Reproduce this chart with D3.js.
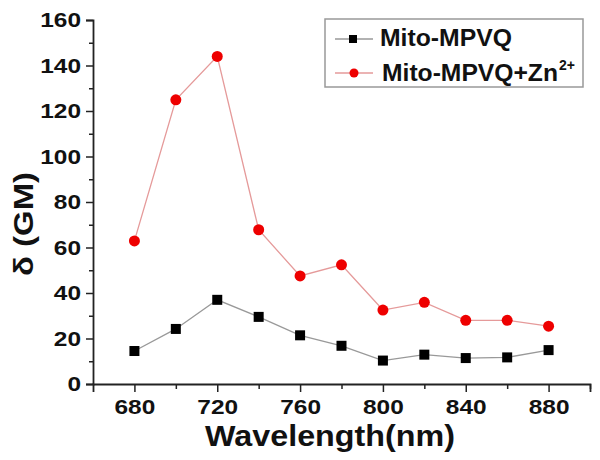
<!DOCTYPE html>
<html>
<head>
<meta charset="utf-8">
<script src="https://cdn.jsdelivr.net/npm/d3@7"></script>
<style>
  body { margin: 0; background: #fff; }
  text { font-family: "Liberation Sans", Arial, sans-serif; font-weight: bold; }
</style>
</head>
<body>
<div id="canvas"></div>
<script>
// data
const wavelengths = [680, 700, 720, 740, 760, 780, 800, 820, 840, 860, 880];
const mitoValues = [14.5, 24.2, 37.0, 29.5, 21.4, 16.8, 10.3, 12.9, 11.4, 11.7, 14.9];
const mitoZnValues = [62.9, 124.9, 144.0, 67.8, 47.5, 52.4, 32.5, 35.9, 28.0, 28.0, 25.4];
const xTicks = [680, 720, 760, 800, 840, 880];
const yTicks = [0, 20, 40, 60, 80, 100, 120, 140, 160];

const width = 600, height = 460;
const margin = {top: 20, right: 10, bottom: 76, left: 93};

const svg = d3.select("#canvas")
    .append("svg")
    .attr("width", width)
    .attr("height", height);

const x = d3.scaleLinear()
    .domain([660, 900])
    .range([margin.left, width - margin.right]);

const y = d3.scaleLinear()
    .domain([0, 160])
    .range([height - margin.bottom, margin.top]);

// x axis
const xAxis = svg.append("g")
    .attr("transform", "translate(0," + y(0) + ")")
    .call(d3.axisBottom(x).tickValues(xTicks).tickSize(8).tickPadding(7).tickFormat(d3.format("d")));
svg.append("g")
    .attr("transform", "translate(0," + y(0) + ")")
    .call(d3.axisBottom(x).tickValues([700, 740, 780, 820, 860, 900]).tickSize(5).tickFormat(""))
    .select(".domain").remove();

// y axis
const yAxis = svg.append("g")
    .attr("transform", "translate(" + x(660) + ",0)")
    .call(d3.axisLeft(y).tickValues(yTicks).tickSize(7).tickPadding(5));
svg.append("g")
    .attr("transform", "translate(" + x(660) + ",0)")
    .call(d3.axisLeft(y).tickValues(d3.range(10, 160, 20)).tickSize(4).tickFormat(""))
    .select(".domain").remove();

svg.selectAll(".domain").attr("stroke", "#222").attr("stroke-width", 1.8);
svg.selectAll(".tick line").attr("stroke", "#222").attr("stroke-width", 1.5);
// the original glyphs are a bit wider than Arial bold
svg.selectAll(".tick text")
    .attr("font-size", 21)
    .attr("fill", "#111")
    .attr("textLength", d => String(d).length * 13.6)
    .attr("lengthAdjust", "spacingAndGlyphs");

// axis titles
svg.append("text")
    .attr("x", 205)
    .attr("y", 446)
    .attr("font-size", 29)
    .attr("fill", "#111")
    .attr("textLength", 250)
    .attr("lengthAdjust", "spacingAndGlyphs")
    .text("Wavelength(nm)");

svg.append("text")
    .attr("transform", "translate(33,276) rotate(-90)")
    .attr("font-size", 28)
    .attr("fill", "#111")
    .attr("textLength", 104)
    .attr("lengthAdjust", "spacingAndGlyphs")
    .text("δ (GM)");

// lines
const line = d3.line()
    .x((d, i) => x(wavelengths[i]))
    .y(d => y(d));

svg.append("path")
    .datum(mitoValues)
    .attr("fill", "none")
    .attr("stroke", "#999")
    .attr("stroke-width", 1.3)
    .attr("d", line);

svg.append("path")
    .datum(mitoZnValues)
    .attr("fill", "none")
    .attr("stroke", "#e59a9a")
    .attr("stroke-width", 1.3)
    .attr("d", line);

svg.selectAll(".sq")
    .data(mitoValues)
    .join("rect")
    .attr("x", (d, i) => x(wavelengths[i]) - 5)
    .attr("y", d => y(d) - 5)
    .attr("width", 10)
    .attr("height", 10)
    .attr("fill", "#000");

svg.selectAll(".dot")
    .data(mitoZnValues)
    .join("circle")
    .attr("cx", (d, i) => x(wavelengths[i]))
    .attr("cy", d => y(d))
    .attr("r", 5.5)
    .attr("fill", "#ee0000");

// legend
const legend = svg.append("g");
legend.append("rect")
    .attr("x", 325)
    .attr("y", 19)
    .attr("width", 258)
    .attr("height", 68)
    .attr("fill", "none")
    .attr("stroke", "#999")
    .attr("stroke-width", 1.5);

legend.append("line")
    .attr("x1", 335).attr("x2", 373)
    .attr("y1", 39).attr("y2", 39)
    .attr("stroke", "#999").attr("stroke-width", 1.3);
legend.append("rect")
    .attr("x", 349).attr("y", 35)
    .attr("width", 8).attr("height", 8)
    .attr("fill", "#000");
legend.append("text")
    .attr("x", 380).attr("y", 46)
    .attr("font-size", 23)
    .attr("fill", "#111")
    .attr("textLength", 132)
    .attr("lengthAdjust", "spacingAndGlyphs")
    .text("Mito-MPVQ");

legend.append("line")
    .attr("x1", 335).attr("x2", 373)
    .attr("y1", 73).attr("y2", 73)
    .attr("stroke", "#e59a9a").attr("stroke-width", 1.3);
legend.append("circle")
    .attr("cx", 354).attr("cy", 73)
    .attr("r", 4.5)
    .attr("fill", "#ee0000");
legend.append("text")
    .attr("x", 382).attr("y", 81)
    .attr("font-size", 23)
    .attr("fill", "#111")
    .attr("textLength", 176)
    .attr("lengthAdjust", "spacingAndGlyphs")
    .text("Mito-MPVQ+Zn");
legend.append("text")
    .attr("x", 559).attr("y", 70)
    .attr("font-size", 14)
    .attr("fill", "#111")
    .text("2+");
</script>
</body>
</html>
